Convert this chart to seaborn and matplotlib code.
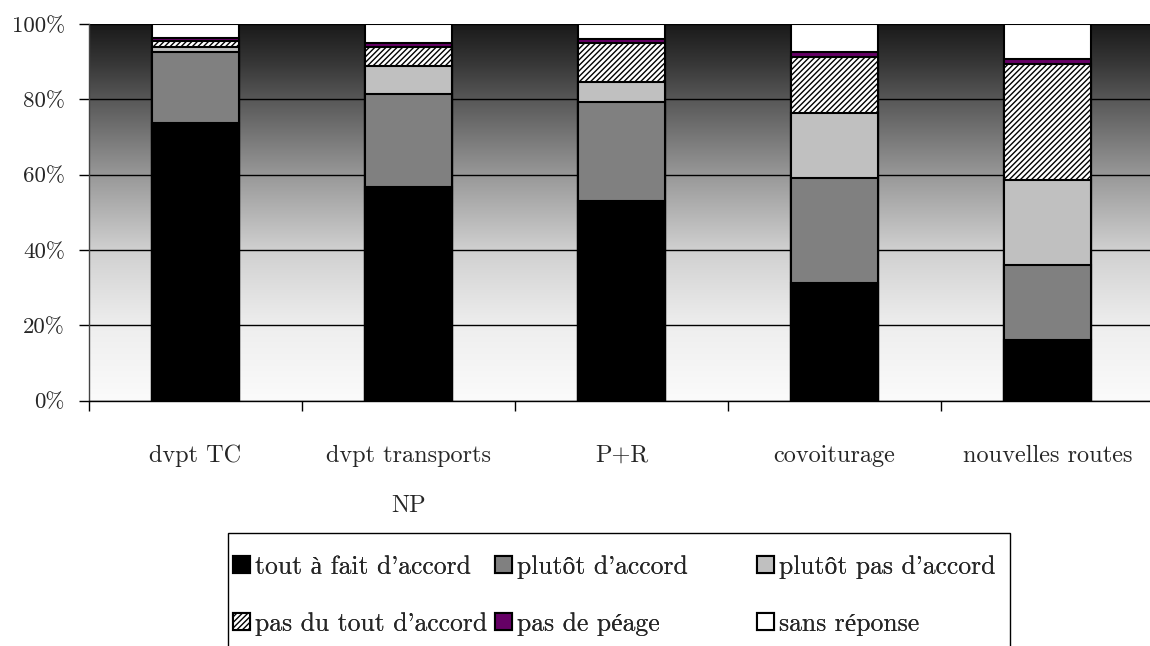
import numpy as np
import matplotlib
matplotlib.use("Agg")
import matplotlib.pyplot as plt
import seaborn as sns
from matplotlib.patches import Rectangle
from matplotlib.colors import LinearSegmentedColormap

# Survey answers per measure (percent of respondents, stacked bottom to top)
categories = ["dvpt TC", "dvpt transports\nNP", "P+R", "covoiturage", "nouvelles routes"]
series_names = ["tout à fait d'accord", "plutôt d'accord", "plutôt pas d'accord",
                "pas du tout d'accord", "pas de péage", "sans réponse"]
tout_a_fait = [73.7, 56.6, 52.9, 31.1, 16.2]
plutot = [18.9, 24.8, 26.4, 27.9, 19.7]
plutot_pas = [1.3, 7.4, 5.3, 17.3, 22.6]
pas_du_tout = [1.6, 5.1, 10.3, 14.9, 30.9]
pas_de_peage = [0.8, 1.0, 1.1, 1.3, 1.3]
sans_reponse = [3.7, 5.1, 4.0, 7.5, 9.3]
y_ticks = [0, 20, 40, 60, 80, 100]
y_tick_labels = ["0%", "20%", "40%", "60%", "80%", "100%"]

sns.set_theme(style="white")
plt.rcParams["font.family"] = ["cmr10", "Liberation Serif"]
plt.rcParams["axes.unicode_minus"] = False
plt.rcParams["hatch.linewidth"] = 1.0

W, H = 1150, 646
fig = plt.figure(figsize=(W / 100, H / 100), dpi=100)
ax = fig.add_axes([89 / W, 1 - 400.5 / H, (1154 - 89) / W, (400.5 - 24) / H])

# plot-area background: dark at the top fading to white at the bottom
bg_cmap = LinearSegmentedColormap.from_list(
    "bg",
    [(0.0, "#fbfbfb"), (0.2, "#eeeeee"), (0.4, "#d0d0d0"), (0.6, "#989898"),
     (0.8, "#585858"), (0.9, "#363636"), (1.0, "#1a1a1a")])
grad = np.linspace(0, 1, 256).reshape(-1, 1)
ax.imshow(grad, cmap=bg_cmap, extent=(-0.5, 4.5, 0, 100), origin="lower",
          aspect="auto", zorder=0, interpolation="bilinear")

styles = [
    dict(color="#000000", hatch=None),
    dict(color="#808080", hatch=None),
    dict(color="#c0c0c0", hatch=None),
    dict(color="#ffffff", hatch="//////"),
    dict(color="#660066", hatch=None),
    dict(color="#ffffff", hatch=None),
]
stack = np.array([tout_a_fait, plutot, plutot_pas, pas_du_tout, pas_de_peage, sans_reponse])
tops = np.cumsum(stack, axis=0)

handles = {}
# draw cumulative totals from the top segment down so each lower bar covers the one above
for i in reversed(range(len(series_names))):
    st = styles[i]
    kws = {}
    if st["hatch"]:
        kws["hatch"] = st["hatch"]
    sns.barplot(x=categories, y=tops[i], color=st["color"], saturation=1,
                edgecolor="black", linewidth=1.5, width=0.41, ax=ax, zorder=2, **kws)
    handles[i] = ax.containers[-1].patches[0]

ax.set_xlim(-0.5, 4.5)
ax.set_ylim(0, 100)
ax.set_yticks(y_ticks)
ax.set_yticklabels(y_tick_labels)
ax.set_xticks(range(len(categories)))
ax.set_xticklabels(categories, linespacing=2.6)
ax.set_xticks(np.arange(-0.5, 5, 1), minor=True)
ax.set_xlabel("")
ax.set_ylabel("")

# gridlines sit above the background image but below the bars
ax.set_axisbelow(True)
ax.yaxis.grid(True, color="black", linewidth=1.0)
ax.xaxis.grid(False)

for side in ["top", "right"]:
    ax.spines[side].set_visible(False)
ax.spines["left"].set_color("#444444")
ax.spines["left"].set_linewidth(1.0)
ax.spines["bottom"].set_color("black")
ax.spines["bottom"].set_linewidth(1.0)
ax.spines["left"].set_zorder(3)
ax.spines["bottom"].set_zorder(3)

ax.tick_params(axis="y", which="major", direction="out", length=7.5, width=1.0,
               color="black", pad=10, labelsize=16.5, left=True)
ax.tick_params(axis="x", which="major", length=0, pad=32, labelsize=17.5)
ax.tick_params(axis="x", which="minor", direction="out", length=7.5, width=1.0,
               color="black", bottom=True)

# legend: three columns of two entries inside one rectangular frame
cols = [(233, [0, 3]), (495, [1, 4]), (757, [2, 5])]
for x_px, idx in cols:
    leg = fig.legend([handles[i] for i in idx], [series_names[i] for i in idx],
                     loc="upper left", bbox_to_anchor=(x_px / W, 1 - 555 / H),
                     frameon=False, borderpad=0, borderaxespad=0,
                     handlelength=0.65, handleheight=0.65, handletextpad=0.22,
                     labelspacing=1.3, fontsize=18.5)
    fig.add_artist(leg)

fig.add_artist(Rectangle((228 / W, 1 - 660 / H), (1010 - 228) / W, (660 - 533) / H,
                         transform=fig.transFigure, fill=False,
                         edgecolor="black", linewidth=1.0))

fig.savefig("out.png", dpi=100, facecolor="white")
